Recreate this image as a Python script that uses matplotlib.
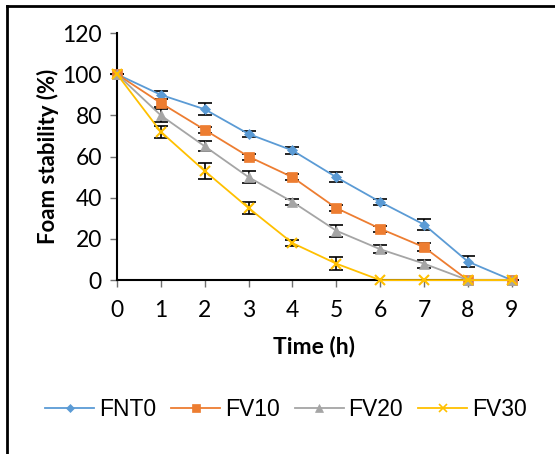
import numpy as np
import matplotlib.pyplot as plt
from matplotlib.lines import Line2D

plt.rcParams['font.family'] = ['Lato', 'DejaVu Sans']

time = [0, 1, 2, 3, 4, 5, 6, 7, 8, 9]
names = ['FNT0', 'FV10', 'FV20', 'FV30']
fnt0 = [100, 90, 83, 71, 63, 50, 38, 27, 9, 0]
fv10 = [100, 86, 73, 60, 50, 35, 25, 16, 0, 0]
fv20 = [100, 80, 65, 50, 38, 24, 15, 8, 0, 0]
fv30 = [100, 72, 53, 35, 18, 8, 0, 0, 0, 0]
err_fnt0 = [0, 2, 3, 1.5, 1.5, 2.5, 1.5, 2.5, 2.5, 0]
err_fv10 = [0, 2, 1.5, 1.5, 1.5, 1.5, 1.5, 2, 0, 0]
err_fv20 = [0, 3, 2.5, 3, 1.5, 3, 2, 2, 0, 0]
err_fv30 = [0, 3, 4, 3, 1.5, 3, 0, 0, 0, 0]

series = [fnt0, fv10, fv20, fv30]
errs = [err_fnt0, err_fv10, err_fv20, err_fv30]
colors = ['#5B9BD5', '#ED7D31', '#A5A5A5', '#FFC000']
markers = ['D', 's', '^', 'x']
msizes = [5, 7, 7, 7]

fig = plt.figure(figsize=(5.55, 4.54), dpi=100)
ax = fig.add_axes([0.211, 0.383, 0.711, 0.544])

for y, e, c, m, ms in zip(series, errs, colors, markers, msizes):
    ax.errorbar(time, y, yerr=e, fmt='none', ecolor='black', elinewidth=1.2,
                capsize=5, capthick=1.2, zorder=2, clip_on=False)
    ax.plot(time, y, color=c, marker=m, markersize=ms, linewidth=1.3,
            markeredgewidth=1.5 if m == 'x' else 0.5, zorder=3, clip_on=False)

ax.set_xlim(0, 9)
ax.set_ylim(0, 120)
ax.set_xticks(time)
ax.set_yticks(range(0, 121, 20))
ax.spines['top'].set_visible(False)
ax.spines['right'].set_visible(False)
ax.spines['left'].set_linewidth(1.5)
ax.spines['bottom'].set_linewidth(1.5)
ax.tick_params(axis='both', labelsize=16.5, direction='out', length=5,
               color='#707070', width=1)
ax.tick_params(axis='x', pad=9)
ax.tick_params(axis='y', pad=6)
ax.set_xlabel('Time (h)', fontsize=16.5, fontweight='bold', labelpad=11)
ax.set_ylabel('Foam stability (%)', fontsize=16, fontweight='bold', labelpad=2)

handles = [Line2D([0], [0], color=c, marker=m, markersize=ms * 0.8, linewidth=1.3,
                  markeredgewidth=1.2 if m == 'x' else 0.5)
           for c, m, ms in zip(colors, markers, msizes)]
fig.legend(handles, names, loc='center', bbox_to_anchor=(0.515, 0.097), ncol=4,
           frameon=False, prop={'family': 'Liberation Sans', 'size': 16.5},
           handlelength=2.15, columnspacing=0.65, handletextpad=0.2)

fig.add_artist(Line2D([0.013, 0.013], [0, 0.987], color='black', linewidth=2,
                      transform=fig.transFigure))
fig.add_artist(Line2D([0.013, 1], [0.987, 0.987], color='black', linewidth=2,
                      transform=fig.transFigure))

fig.savefig('out.png', dpi=100)
